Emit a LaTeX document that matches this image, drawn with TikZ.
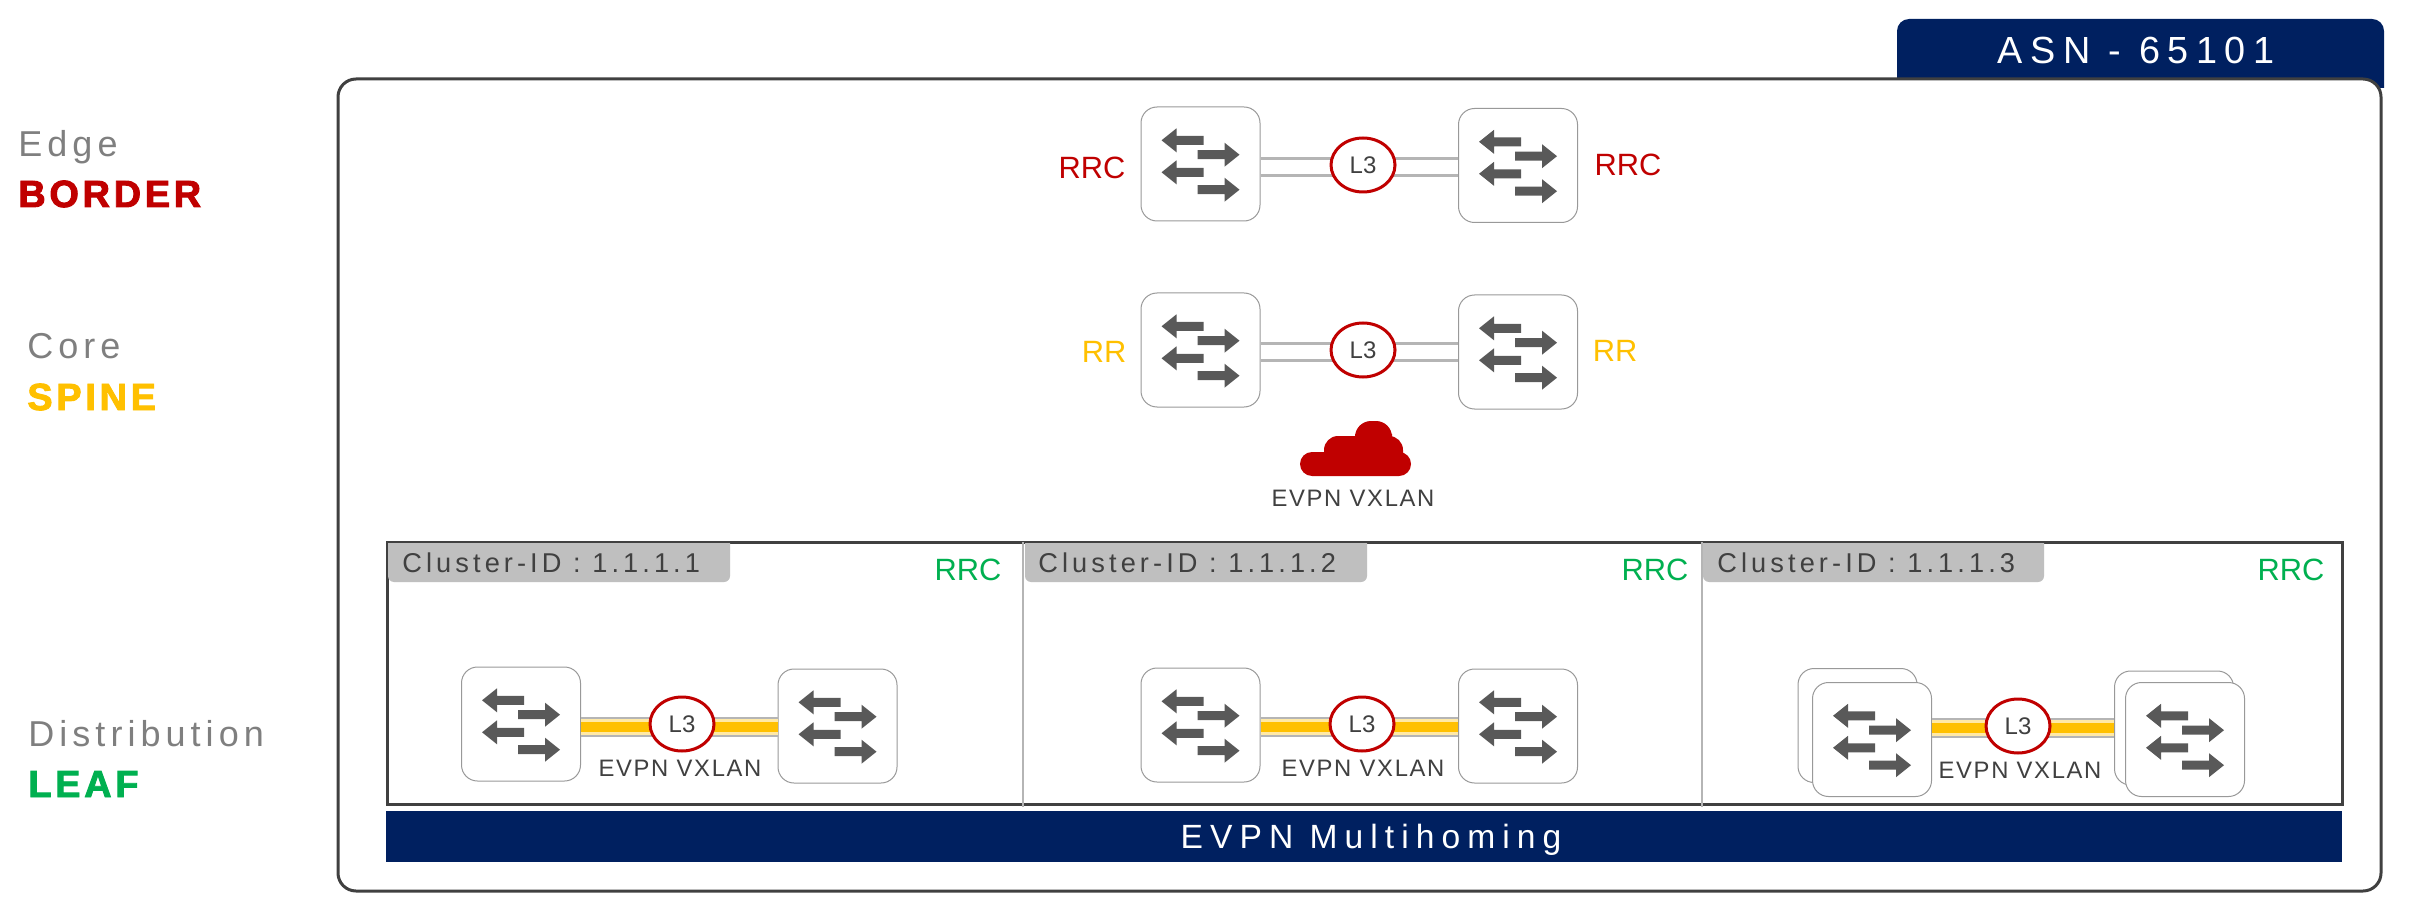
\documentclass[tikz,border=0pt]{standalone}
\usepackage{fontspec}
\setmainfont{Liberation Sans}
\usetikzlibrary{calc, shapes.geometric}
\definecolor{navy}{HTML}{002060}
\definecolor{brdred}{HTML}{C00000}
\definecolor{spnyellow}{HTML}{FFC000}
\definecolor{lfgreen}{HTML}{00B050}
\definecolor{dkgray}{HTML}{404040}
\definecolor{midgray}{HTML}{7F7F7F}
\definecolor{arrgray}{HTML}{595959}
\definecolor{taggray}{HTML}{BFBFBF}
\definecolor{wiregray}{HTML}{B5B5B5}

\begin{document}
\begin{tikzpicture}[
	  x=0.5pt, y=-0.5pt,
	  blankbox/.style={
	  	rectangle,
	  	draw=midgray!80,
	  	fill=white,
	  	line width=.5pt,
	  	rounded corners=8pt,
	  	inner sep=0pt,
	  	minimum width=59.5pt,
	  	minimum height=57pt
	  },
	  switchbox/.style={
	  	blankbox,
	  	path picture={
	  		\foreach \ay/\ad in {-23.7/-1, -9.3/1, 8.3/-1, 25.7/1}
	  			\fill[arrgray, sharp corners, shift={(path picture bounding box.center)}]
	  				({-3*\ad},{\ay-4.5}) -- ({24*\ad},{\ay-4.5}) -- ({24*\ad},{\ay-12}) -- ({39*\ad},{\ay})
	  				-- ({24*\ad},{\ay+12}) -- ({24*\ad},{\ay+4.5}) -- ({-3*\ad},{\ay+4.5}) -- cycle;
	  	}
	  },
	  lthree/.style={
		  ellipse,
		  draw=brdred,
		  fill=white,
		  line width=1.5pt,
		  inner sep=0pt,
		  minimum width=32pt,
		  minimum height=27pt,
		  text=dkgray,
		  font=\fontsize{12}{14}\selectfont
	  },
	  wire/.style={draw=wiregray, line width=1.5pt},
	  leaflink/.style={
		  preaction={draw=wiregray, line width=10pt},
		  draw=spnyellow!35, line width=8pt,
		  postaction={draw=spnyellow, line width=5pt}
	  },
	  tier/.style={anchor=base west, inner sep=0pt, text=midgray,
		  font=\fontsize{18}{20}\selectfont\addfontfeatures{LetterSpace=14}},
	  tierbold/.style={anchor=base west, inner sep=0pt,
		  font=\fontsize{18.9}{20}\selectfont\bfseries\addfontfeatures{LetterSpace=10,FakeBold=2.5}},
	  role/.style={anchor=base, inner sep=0pt, font=\fontsize{15.4}{18}\selectfont},
	  overlay label/.style={anchor=base, inner sep=0pt, text=dkgray,
		  font=\fontsize{11.9}{14}\selectfont\addfontfeatures{LetterSpace=7}},
	  taglabel/.style={anchor=base west, inner sep=0pt, text=dkgray,
		  font=\fontsize{13.6}{16}\selectfont\addfontfeatures{LetterSpace=15}},
	  navytext/.style={anchor=base, inner sep=0pt, text=white}]
	\useasboundingbox (0,0) rectangle (2412,919);

	% AS frame
	\begin{scope}
		\clip (1890,0) rectangle (2390,88);
		\fill[navy, rounded corners=6pt] (1897,19) rectangle (2384,120);
	\end{scope}
	\draw[dkgray, line width=1.5pt, fill=white, rounded corners=9pt] (338,79) rectangle (2381,891);
	\node[navytext, font=\fontsize{18.9}{22}\selectfont\addfontfeatures{LetterSpace=20}] (asn) at (2136,64) {ASN - 65101};

	% Tier labels
	\node[tier] (edge) at (18,157) {Edge};
	\node[tierbold, text=brdred] (border) at (18,207) {BORDER};
	\node[tier] (core) at (27,358.5) {Core};
	\node[tierbold, text=spnyellow] (spine) at (27,410) {SPINE};
	\node[tier] (distribution) at (28,746) {Distribution};
	\node[tierbold, text=lfgreen] (leaf) at (28,797) {LEAF};

	% Border row
	\node[switchbox] (brda) at (1200.5,164) {};
	\node[switchbox] (brdb) at (1518,165.5) {};
	\draw[wire] ($(brda.east)+(0,-5)$) -- ($(brdb.west)+(0,-6.5)$);
	\draw[wire] ($(brda.east)+(0,12)$) -- ($(brdb.west)+(0,10.5)$);
	\node[lthree] (brdl) at (1363,165) {L3};
	\node[role, text=brdred] (brdrrca) at (1092,179) {RRC};
	\node[role, text=brdred] (brdrrcb) at (1628,176) {RRC};

	% Spine row
	\node[switchbox] (spna) at (1200.5,350) {};
	\node[switchbox] (spnb) at (1518,352) {};
	\draw[wire] ($(spna.east)+(0,-6)$) -- ($(spnb.west)+(0,-8)$);
	\draw[wire] ($(spna.east)+(0,11)$) -- ($(spnb.west)+(0,9)$);
	\node[lthree] (spnl) at (1363,350) {L3};
	\node[role, text=spnyellow] (spnrra) at (1104,363) {RR};
	\node[role, text=spnyellow] (spnrrb) at (1615,362) {RR};

	% Cloud
	\fill[brdred, rounded corners=6pt] (1300,452) rectangle (1411,476);
	\fill[brdred, rounded corners=7pt] (1324,436) rectangle (1403,470);
	\fill[brdred, rounded corners=8pt] (1355,421) rectangle (1392,450);
	\node[overlay label] (cloudtext) at (1353,506.5) {EVPN VXLAN};

	% Clusters
	\draw[dkgray, line width=1.5pt] (387,542) rectangle (2342,804);
	\draw[wiregray, line width=1.2pt] (1023,542) -- (1023,807);
	\draw[wiregray, line width=1.2pt] (1702,542) -- (1702,807);
	\foreach \cid/\xa/\xb/\xt/\xr in {1/388/730/402/968, 2/1025/1367/1038/1655, 3/1703/2044/1717/2291} {
		\begin{scope}
			\clip (\xa,543) rectangle (\xb,590);
			\fill[taggray, rounded corners=3pt] (\xa,520) rectangle (\xb,582);
		\end{scope}
		\node[taglabel] (tag\cid) at (\xt,572) {Cluster-ID : 1.1.1.\cid};
		\node[role, text=lfgreen] (rrc\cid) at (\xr,580) {RRC};
	}

	% Leaf pairs
	\node[switchbox] (lfaa) at (521,724) {};
	\node[switchbox] (lfab) at (837.5,726) {};
	\draw[leaflink] ($(lfaa.east)+(0,3)$) -- ($(lfab.west)+(0,1)$);
	\node[lthree] (lfal) at (682,724) {L3};
	\node[overlay label] (lfat) at (680,776) {EVPN VXLAN};

	\node[switchbox] (lfba) at (1200.5,725) {};
	\node[switchbox] (lfbb) at (1518,726) {};
	\draw[leaflink] ($(lfba.east)+(0,2)$) -- ($(lfbb.west)+(0,1)$);
	\node[lthree] (lfbl) at (1362,724) {L3};
	\node[overlay label] (lfbt) at (1363,776) {EVPN VXLAN};

	\node[blankbox] (lfcab) at (1857.5,725.5) {};
	\node[switchbox] (lfca) at (1872,739.5) {};
	\node[blankbox] (lfcbb) at (2174,728) {};
	\node[switchbox] (lfcb) at (2185,739.5) {};
	\draw[leaflink] ($(lfca.east)+(0,-11.5)$) -- ($(lfcbb.west)+(0,0)$);
	\node[lthree] (lfcl) at (2018,726) {L3};
	\node[overlay label] (lfct) at (2020,778) {EVPN VXLAN};

	% Multihoming bar
	\fill[navy] (386,811) rectangle (2342,862);
	\node[navytext, font=\fontsize{16.8}{20}\selectfont\addfontfeatures{LetterSpace=21}] (mhome) at (1371,848) {EVPN Multihoming};
\end{tikzpicture}
\end{document}
